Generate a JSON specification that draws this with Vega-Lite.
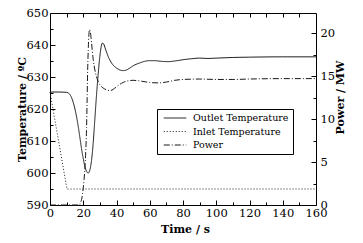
{
  "$schema": "https://vega.github.io/schema/vega-lite/v6.json",
  "width": 266,
  "height": 192,
  "autosize": {"type": "none"},
  "padding": {"left": 50, "top": 13, "right": 47, "bottom": 38},
  "background": "white",
  "config": {
    "font": "DejaVu Serif",
    "view": {"stroke": "black", "strokeWidth": 1},
    "axis": {"domain": false, "grid": false, "tickColor": "black", "labelColor": "black", "titleColor": "black", "labelFont": "DejaVu Serif", "titleFont": "DejaVu Serif", "labelFontSize": 11.5, "titleFontSize": 11, "titleFontWeight": "bold", "tickWidth": 1},
    "legend": {"labelFont": "DejaVu Serif", "labelFontSize": 9.5, "labelColor": "black"}
  },
  "datasets": {
    "outlet": [
      {"t": 0, "v": 625.3}, {"t": 5, "v": 625.3}, {"t": 10, "v": 625.2}, {"t": 11, "v": 625.0},
      {"t": 12, "v": 624.5}, {"t": 13, "v": 623.5}, {"t": 14, "v": 622.0}, {"t": 15, "v": 620.0},
      {"t": 16, "v": 617.5}, {"t": 17, "v": 614.5}, {"t": 18, "v": 611.0}, {"t": 19, "v": 607.5},
      {"t": 20, "v": 604.5}, {"t": 21, "v": 602.0}, {"t": 22, "v": 600.5}, {"t": 23, "v": 600.0},
      {"t": 24, "v": 601.0}, {"t": 25, "v": 604.0}, {"t": 26, "v": 609.5}, {"t": 27, "v": 617.0},
      {"t": 28, "v": 624.5}, {"t": 29, "v": 631.0}, {"t": 30, "v": 636.5}, {"t": 31, "v": 640.0},
      {"t": 31.6, "v": 640.6}, {"t": 32.3, "v": 640.3}, {"t": 33, "v": 639.3}, {"t": 34, "v": 637.8},
      {"t": 35, "v": 636.4}, {"t": 36, "v": 635.3}, {"t": 38, "v": 633.7}, {"t": 40, "v": 632.8},
      {"t": 42, "v": 632.2}, {"t": 44, "v": 632.0}, {"t": 46, "v": 632.2}, {"t": 48, "v": 632.8},
      {"t": 50, "v": 633.5}, {"t": 54, "v": 634.4}, {"t": 57, "v": 634.9}, {"t": 60, "v": 635.1},
      {"t": 63, "v": 635.1}, {"t": 67, "v": 634.9}, {"t": 71, "v": 634.8}, {"t": 75, "v": 635.0},
      {"t": 80, "v": 635.4}, {"t": 85, "v": 635.7}, {"t": 90, "v": 635.9}, {"t": 95, "v": 635.8},
      {"t": 100, "v": 635.9}, {"t": 110, "v": 636.1}, {"t": 120, "v": 636.2}, {"t": 140, "v": 636.3},
      {"t": 160, "v": 636.3}
    ],
    "inlet": [
      {"t": 0, "v": 625.3}, {"t": 10.2, "v": 595.0}, {"t": 160, "v": 595.0}
    ],
    "power": [
      {"t": 0, "v": 0}, {"t": 17.5, "v": 0}, {"t": 18.5, "v": 0.3}, {"t": 19.5, "v": 1.2},
      {"t": 20.5, "v": 3.0}, {"t": 21, "v": 4.3}, {"t": 21.5, "v": 6.2}, {"t": 22, "v": 9.0},
      {"t": 22.3, "v": 12.0}, {"t": 22.6, "v": 15.2}, {"t": 23, "v": 18.0}, {"t": 23.4, "v": 19.8},
      {"t": 23.8, "v": 20.4}, {"t": 24.3, "v": 20.1}, {"t": 25, "v": 18.8}, {"t": 26, "v": 16.9},
      {"t": 27, "v": 15.7}, {"t": 28, "v": 14.9}, {"t": 30, "v": 14.0}, {"t": 32, "v": 13.6},
      {"t": 34, "v": 13.4}, {"t": 36, "v": 13.3}, {"t": 38, "v": 13.45}, {"t": 40, "v": 13.75},
      {"t": 43, "v": 14.15}, {"t": 46, "v": 14.4}, {"t": 50, "v": 14.5}, {"t": 55, "v": 14.4},
      {"t": 60, "v": 14.25}, {"t": 65, "v": 14.2}, {"t": 70, "v": 14.3}, {"t": 75, "v": 14.5},
      {"t": 80, "v": 14.6}, {"t": 90, "v": 14.65}, {"t": 100, "v": 14.6}, {"t": 110, "v": 14.6},
      {"t": 120, "v": 14.65}, {"t": 140, "v": 14.7}, {"t": 160, "v": 14.7}
    ]
  },
  "resolve": {"scale": {"y": "independent"}, "axis": {"x": "independent", "y": "independent"}},
  "layer": [
    {
      "data": {"name": "outlet"},
      "transform": [{"calculate": "'Outlet Temperature'", "as": "s"}],
      "mark": {"type": "line", "interpolate": "monotone", "color": "#1a1a1a", "strokeWidth": 1},
      "encoding": {
        "x": {"field": "t", "type": "quantitative", "scale": {"domain": [0, 160], "nice": false},
              "axis": {"orient": "bottom", "title": "Time / s", "values": [0, 20, 40, 60, 80, 100, 120, 140, 160], "tickSize": -5, "labelPadding": 7, "titleX": 135, "titleY": 27, "titleBaseline": "alphabetic", "labelFlush": false}},
        "y": {"field": "v", "type": "quantitative", "scale": {"domain": [590, 650], "nice": false, "zero": false},
              "axis": {"orient": "left", "title": "Temperature / ºC", "values": [590, 600, 610, 620, 630, 640, 650], "tickSize": -5, "labelPadding": 7, "titleX": -28, "titleY": 96, "titleAngle": 270, "titleBaseline": "middle", "labelFlush": false}},
        "strokeDash": {"field": "s", "type": "nominal",
          "scale": {"domain": ["Outlet Temperature", "Inlet Temperature", "Power"], "range": [[1, 0], [1, 2], [6, 2, 1, 2]]},
          "legend": {"orient": "none", "legendX": 107, "legendY": 96, "title": null, "strokeColor": "black", "padding": 4, "symbolType": "M-2.5,0H2.5", "symbolSize": 81, "symbolStrokeWidth": 1, "symbolStrokeColor": "black", "labelOffset": 13, "rowPadding": 3.5, "symbolOffset": 9, "labelFont": "DejaVu Serif", "labelFontSize": 9.5, "labelColor": "black"}}
      }
    },
    {
      "data": {"name": "inlet"},
      "transform": [{"calculate": "'Inlet Temperature'", "as": "s"}],
      "mark": {"type": "line", "interpolate": "linear", "color": "#1a1a1a", "strokeWidth": 1},
      "encoding": {
        "x": {"field": "t", "type": "quantitative", "axis": null},
        "y": {"field": "v", "type": "quantitative", "scale": {"domain": [590, 650], "nice": false, "zero": false}, "axis": null},
        "strokeDash": {"field": "s", "type": "nominal"}
      }
    },
    {
      "data": {"name": "power"},
      "transform": [{"calculate": "'Power'", "as": "s"}],
      "mark": {"type": "line", "interpolate": "monotone", "color": "#1a1a1a", "strokeWidth": 1},
      "encoding": {
        "x": {"field": "t", "type": "quantitative", "axis": null},
        "y": {"field": "v", "type": "quantitative", "scale": {"domain": [0, 22.33], "nice": false},
              "axis": {"orient": "right", "title": "Power / MW", "values": [0, 5, 10, 15, 20], "tickSize": -5, "labelPadding": 9, "titleX": 24, "titleY": 84, "titleAngle": 270, "titleBaseline": "middle", "labelFlush": false}},
        "strokeDash": {"field": "s", "type": "nominal"}
      }
    },
    {
      "data": {"name": "inlet"},
      "mark": {"type": "line", "opacity": 0},
      "encoding": {
        "x": {"field": "t", "type": "quantitative",
              "axis": {"orient": "bottom", "title": null, "labels": false, "values": [10, 30, 50, 70, 90, 110, 130, 150], "tickSize": -3}},
        "y": {"field": "v", "type": "quantitative", "scale": {"domain": [590, 650], "nice": false, "zero": false},
              "axis": {"orient": "left", "title": null, "labels": false, "values": [595, 605, 615, 625, 635, 645], "tickSize": -3}}
      }
    },
    {
      "data": {"name": "power"},
      "mark": {"type": "line", "opacity": 0},
      "encoding": {
        "x": {"field": "t", "type": "quantitative",
              "axis": {"orient": "top", "title": null, "labels": false, "values": [10, 20, 30, 40, 50, 60, 70, 80, 90, 100, 110, 120, 130, 140, 150], "tickSize": -4}},
        "y": {"field": "v", "type": "quantitative", "scale": {"domain": [0, 22.33], "nice": false},
              "axis": {"orient": "right", "title": null, "labels": false, "values": [2.5, 7.5, 12.5, 17.5], "tickSize": -3}}
      }
    }
  ]
}
